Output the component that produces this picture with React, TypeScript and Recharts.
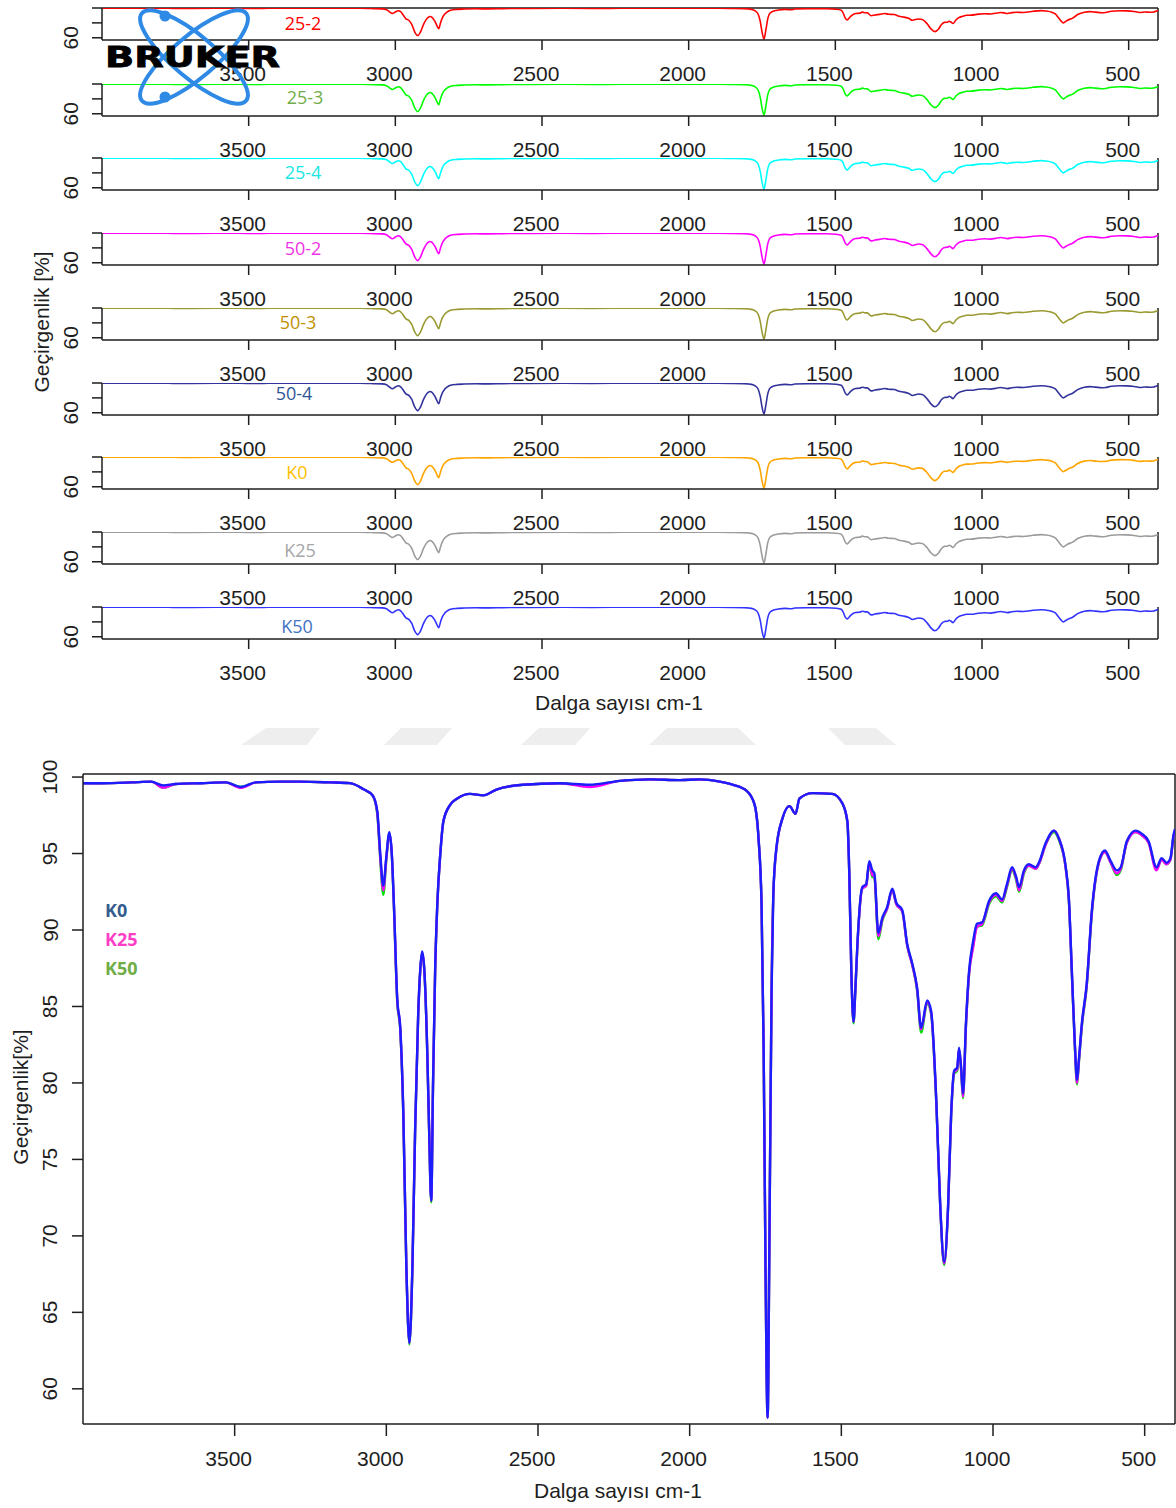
import React from "react";
import { LineChart, Line, XAxis, YAxis, ReferenceLine } from "recharts";

// FTIR spectra (transmittance %, wavenumber descending)
const WAVENUMBER = [
  4000, 3940, 3840, 3775, 3735, 3695, 3610, 3530, 3480, 3430, 3350, 3285, 3185, 3120, 3075, 3045,
  3030, 3020, 3010, 3000, 2990, 2982, 2975, 2964, 2954, 2944, 2934, 2924, 2914, 2905, 2895, 2888,
  2882, 2875, 2865, 2859, 2852, 2846, 2839, 2832, 2822, 2812, 2789, 2766, 2724, 2681, 2635, 2549,
  2428, 2330, 2230, 2132, 2033, 1967, 1901, 1859, 1812, 1786, 1773, 1763, 1756, 1750, 1743, 1737,
  1730, 1724, 1714, 1694, 1671, 1651, 1638, 1595, 1530, 1497, 1480, 1474, 1467, 1460, 1454, 1447,
  1431, 1418, 1408, 1398, 1391, 1378, 1365, 1349, 1332, 1319, 1299, 1283, 1266, 1250, 1237, 1217,
  1204, 1187, 1174, 1161, 1148, 1138, 1128, 1118, 1112, 1105, 1099, 1089, 1079, 1066, 1053, 1036,
  1013, 990, 970, 954, 937, 924, 914, 898, 882, 859, 849, 826, 799, 783, 760, 750,
  740, 730, 723, 717, 707, 691, 674, 651, 631, 612, 592, 579, 559, 530, 510, 487,
  461, 444, 428, 415, 405, 400,
];

const K0 = [
  99.6, 99.6, 99.65, 99.7, 99.45, 99.55, 99.6, 99.65, 99.35, 99.65, 99.7, 99.7, 99.65, 99.6, 99.2, 98.8,
  97.8, 95.0, 92.9, 94.8, 96.4, 95.0, 91.7, 85.5, 83.6, 78.0, 68.0, 63.0, 68.0, 77.0, 84.5, 87.5,
  88.6, 87.5, 82.0, 77.0, 72.3, 80.0, 87.5, 91.7, 95.0, 97.1, 98.2, 98.6, 98.9, 98.8, 99.2, 99.5,
  99.6, 99.5, 99.75, 99.85, 99.8, 99.85, 99.7, 99.5, 99.1, 98.2, 96.0, 91.7, 82.0, 68.0, 58.1, 70.0,
  86.0, 92.5, 95.4, 97.3, 98.1, 97.6, 98.6, 98.95, 98.9, 98.3, 97.1, 93.9, 87.3, 84.0, 86.0, 89.1,
  92.8, 93.0, 94.5, 93.9, 93.7, 89.8, 90.8, 91.5, 92.7, 91.8, 91.3, 89.1, 87.8, 86.2, 83.6, 85.4,
  84.7, 78.9, 72.0, 68.3, 72.0, 78.0, 80.8, 81.0, 82.3, 81.0, 79.3, 84.0, 87.3, 89.2, 90.4, 90.5,
  91.9, 92.4, 92.0, 93.0, 94.1, 93.5, 92.8, 93.9, 94.3, 94.1, 94.4, 95.7, 96.5, 96.0, 94.1, 92.1,
  87.3, 82.5, 80.2, 81.5, 83.9, 86.5, 91.3, 94.5, 95.2, 94.5, 93.9, 94.1, 95.8, 96.5, 96.3, 95.8,
  94.1, 94.7, 94.4, 94.7, 96.2, 96.6,
];

const K25 = [
  99.6, 99.6, 99.65, 99.7, 99.3, 99.55, 99.6, 99.65, 99.3, 99.65, 99.7, 99.7, 99.65, 99.6, 99.2, 98.8,
  97.7, 94.8, 92.6, 94.7, 96.3, 95.0, 91.6, 85.4, 83.5, 78.0, 68.0, 63.0, 68.0, 77.0, 84.4, 87.4,
  88.5, 87.4, 82.0, 77.0, 72.3, 80.0, 87.4, 91.6, 95.0, 97.1, 98.2, 98.6, 98.9, 98.8, 99.2, 99.5,
  99.6, 99.35, 99.75, 99.85, 99.8, 99.85, 99.7, 99.5, 99.1, 98.2, 96.0, 91.6, 82.0, 68.0, 58.1, 70.0,
  86.0, 92.4, 95.3, 97.3, 98.1, 97.6, 98.6, 98.95, 98.9, 98.3, 97.1, 93.8, 87.2, 84.0, 86.0, 89.0,
  92.7, 92.9, 94.4, 93.6, 93.5, 89.6, 90.7, 91.4, 92.6, 91.7, 91.2, 89.0, 87.7, 86.1, 83.5, 85.3,
  84.6, 78.8, 72.0, 68.2, 71.9, 77.9, 80.7, 80.9, 82.2, 80.9, 79.1, 83.8, 87.1, 88.8, 90.2, 90.4,
  91.8, 92.3, 91.9, 92.9, 94.0, 93.4, 92.6, 93.8, 94.2, 94.0, 94.3, 95.6, 96.5, 96.0, 94.0, 92.0,
  87.2, 82.4, 80.0, 81.4, 83.8, 86.4, 91.2, 94.4, 95.1, 94.4, 93.7, 94.0, 95.7, 96.4, 96.2, 95.7,
  93.9, 94.6, 94.3, 94.6, 96.1, 96.5,
];

const K50 = [
  99.6, 99.6, 99.65, 99.7, 99.3, 99.55, 99.6, 99.65, 99.35, 99.65, 99.7, 99.7, 99.65, 99.6, 99.2, 98.8,
  97.6, 94.6, 92.3, 94.6, 96.3, 94.9, 91.5, 85.3, 83.4, 77.9, 67.9, 62.9, 67.9, 76.9, 84.4, 87.4,
  88.5, 87.4, 81.9, 76.9, 72.2, 79.9, 87.4, 91.6, 95.0, 97.1, 98.2, 98.6, 98.9, 98.8, 99.2, 99.5,
  99.6, 99.45, 99.75, 99.85, 99.8, 99.85, 99.7, 99.5, 99.1, 98.2, 96.0, 91.6, 82.0, 68.0, 58.1, 70.0,
  86.0, 92.4, 95.3, 97.3, 98.1, 97.6, 98.6, 98.95, 98.9, 98.3, 97.0, 93.8, 87.2, 83.9, 85.9, 89.0,
  92.7, 92.9, 94.3, 93.5, 93.4, 89.4, 90.6, 91.4, 92.6, 91.7, 91.2, 89.0, 87.7, 86.0, 83.3, 85.2,
  84.5, 78.7, 71.9, 68.1, 71.9, 77.8, 80.6, 80.8, 82.1, 80.8, 79.0, 83.8, 87.1, 88.9, 90.2, 90.3,
  91.7, 92.2, 91.8, 92.8, 93.9, 93.3, 92.5, 93.7, 94.2, 94.0, 94.3, 95.6, 96.4, 95.9, 94.0, 92.0,
  87.1, 82.3, 79.9, 81.3, 83.7, 86.3, 91.1, 94.4, 95.1, 94.4, 93.6, 93.9, 95.7, 96.4, 96.2, 95.7,
  94.0, 94.6, 94.3, 94.6, 96.1, 96.5,
];

// small stacked panels: the spectra look identical at that size
const SAMPLES = ["25-2", "25-3", "25-4", "50-2", "50-3", "50-4", "K0", "K25", "K50"];
const SAMPLE_VALUES = [K25, K25, K25, K50, K50, K50, K0, K25, K50];
const SAMPLE_LINE_COLORS = ["#ff0000", "#00ff00", "#00ffff", "#ff00ff", "#9a9a33", "#33339c", "#ffa500", "#9c9c9c", "#3333ff"];
const SAMPLE_LABEL_COLORS = ["#ff0000", "#70ad47", "#19e6e6", "#f032e6", "#bf9000", "#2f5597", "#ffc000", "#a6a6a6", "#4472c4"];

const X_TICKS = [3500, 3000, 2500, 2000, 1500, 1000, 500];
const PANEL_Y_TICKS = [60, 80, 100];
const MAIN_Y_TICKS = [60, 65, 70, 75, 80, 85, 90, 95, 100];

const LEGEND = ["K0", "K25", "K50"];
const LEGEND_COLORS = ["#345c8e", "#ff3ec8", "#70ad47"];
const MAIN_LINE_COLORS = ["#1c1cff", "#ff00ff", "#00e000"];

// layout
const PANEL_TOPS = [8, 84, 158, 233, 308, 383, 457, 532, 607];
const PANEL_LABEL_Y = [23, 97, 172, 248, 322, 393, 472, 550, 626];
const PANEL_LABEL_X = [303, 305, 303, 303, 298, 294, 297, 300, 297];

const FONT = '"Liberation Sans", Arial, sans-serif';
const LABEL_FONT = '"Open Sans", "Noto Sans", sans-serif';
const INK = "#1e1e1e";
const AXIS = { stroke: INK, strokeWidth: 1.5 };

function XTick({ x, y, payload, lift }: any) {
  return (
    <text x={x - 6} y={y} dy={lift} textAnchor="middle" fontSize={21} fill={INK} fontFamily={FONT}>
      {payload.value}
    </text>
  );
}

function YTick({ x, y, payload, shift, only }: any) {
  if (only != null && payload.value !== only) return <g />;
  const cx = x - shift;
  return (
    <text
      x={cx}
      y={y}
      transform={`rotate(-90 ${cx} ${y})`}
      textAnchor="middle"
      dominantBaseline="central"
      fontSize={21}
      fill={INK}
      fontFamily={FONT}
    >
      {payload.value}
    </text>
  );
}

function Panel({ index }: { index: number }) {
  const top = PANEL_TOPS[index] - 8;
  const values = SAMPLE_VALUES[index];
  const data = WAVENUMBER.map((wn, i) => ({ wn, t: values[i] }));
  return (
    <div style={{ position: "absolute", left: 0, top }}>
      <LineChart width={1176} height={90} data={data} margin={{ top: 8, right: 18, bottom: 0, left: 0 }}>
        <XAxis
          dataKey="wn"
          type="number"
          domain={[400, 4000]}
          reversed
          allowDataOverflow
          ticks={X_TICKS}
          interval={0}
          height={50}
          tickSize={10}
          tickMargin={0}
          axisLine={AXIS}
          tickLine={AXIS}
          tick={(p: any) => <XTick {...p} lift={30.5} />}
        />
        <YAxis
          type="number"
          domain={[57, 100]}
          allowDataOverflow
          ticks={PANEL_Y_TICKS}
          interval={0}
          width={102}
          tickSize={10}
          tickMargin={0}
          axisLine={AXIS}
          tickLine={AXIS}
          tick={(p: any) => <YTick {...p} shift={21} only={60} />}
        />
        {index === 0 && <ReferenceLine y={100} stroke={INK} strokeWidth={1.5} />}
        <ReferenceLine x={400} stroke={INK} strokeWidth={1.5} />
        <Line
          dataKey="t"
          type="monotone"
          stroke={SAMPLE_LINE_COLORS[index]}
          strokeWidth={1.6}
          dot={false}
          isAnimationActive={false}
        />
      </LineChart>
      <div
        style={{
          position: "absolute",
          left: PANEL_LABEL_X[index],
          top: PANEL_LABEL_Y[index] - top,
          transform: "translate(-50%, -50%)",
          color: SAMPLE_LABEL_COLORS[index],
          fontFamily: LABEL_FONT,
          fontSize: 18,
          whiteSpace: "nowrap",
        }}
      >
        {SAMPLES[index]}
      </div>
    </div>
  );
}

function Logo() {
  const blue = "#2f8ae6";
  return (
    <svg width={300} height={110} style={{ position: "absolute", left: 0, top: 0 }}>
      <g fill="none" stroke={blue} strokeWidth={4}>
        <ellipse cx={194} cy={57} rx={68} ry={21} transform="rotate(40 194 57)" />
        <ellipse cx={194} cy={57} rx={68} ry={21} transform="rotate(-40 194 57)" />
      </g>
      <circle cx={165} cy={16} r={5.5} fill={blue} />
      <circle cx={165} cy={97} r={5.5} fill={blue} />
      <text
        x={105}
        y={67}
        fontFamily='"DejaVu Sans", sans-serif'
        fontWeight={900}
        fontSize={28}
        textLength={175}
        lengthAdjust="spacingAndGlyphs"
        fill="#000"
        stroke="#000"
        strokeWidth={0.8}
      >
        BRUKER
      </text>
    </svg>
  );
}

function Watermark() {
  return (
    <svg width={1176} height={30} style={{ position: "absolute", left: 0, top: 722 }}>
      <g fill="#eeeeee">
        <polygon points="266,6 320,6 307,23 241,23" />
        <polygon points="401,6 452,6 437,23 384,23" />
        <polygon points="539,6 590,6 575,23 521,23" />
        <polygon points="667,6 738,6 756,23 649,23" />
        <polygon points="828,6 876,6 896,23 845,23" />
      </g>
    </svg>
  );
}

function Title({ x, y, text, rotate }: { x: number; y: number; text: string; rotate?: boolean }) {
  return (
    <div
      style={{
        position: "absolute",
        left: x,
        top: y,
        transform: `translate(-50%, -50%)${rotate ? " rotate(-90deg)" : ""}`,
        fontFamily: FONT,
        fontSize: 21,
        color: INK,
        whiteSpace: "nowrap",
      }}
    >
      {text}
    </div>
  );
}

export default function App() {
  const rows = WAVENUMBER.map((wn, i) => ({ wn, k0: K0[i], k25: K25[i], k50: K50[i] }));
  return (
    <div
      style={{
        position: "absolute",
        left: 0,
        top: 0,
        width: 1176,
        height: 1508,
        background: "#fff",
        overflow: "hidden",
      }}
    >
      <Watermark />
      {SAMPLES.map((name, i) => (
        <Panel key={name} index={i} />
      ))}
      <Logo />
      <Title x={619} y={703} text="Dalga sayısı cm-1" />
      <Title x={42} y={322} text="Geçirgenlik [%]" rotate />

      <div style={{ position: "absolute", left: 0, top: 740 }}>
        <LineChart width={1176} height={768} data={rows} margin={{ top: 34, right: 1, bottom: 0, left: 0 }}>
          <XAxis
            dataKey="wn"
            type="number"
            domain={[400, 4000]}
            reversed
            allowDataOverflow
            ticks={X_TICKS}
            interval={0}
            height={84}
            tickSize={12}
            tickMargin={0}
            axisLine={AXIS}
            tickLine={AXIS}
            tick={(p: any) => <XTick {...p} lift={29.5} />}
          />
          <YAxis
            type="number"
            domain={[57.7, 100.2]}
            allowDataOverflow
            ticks={MAIN_Y_TICKS}
            interval={0}
            width={83}
            tickSize={11}
            tickMargin={0}
            axisLine={AXIS}
            tickLine={AXIS}
            tick={(p: any) => <YTick {...p} shift={22} />}
          />
          <ReferenceLine y={100.2} stroke={INK} strokeWidth={1.5} />
          <ReferenceLine x={400} stroke={INK} strokeWidth={1.5} />
          <Line dataKey="k50" type="monotone" stroke={MAIN_LINE_COLORS[2]} strokeWidth={2.4} dot={false} isAnimationActive={false} />
          <Line dataKey="k25" type="monotone" stroke={MAIN_LINE_COLORS[1]} strokeWidth={2.4} dot={false} isAnimationActive={false} />
          <Line dataKey="k0" type="monotone" stroke={MAIN_LINE_COLORS[0]} strokeWidth={2.4} dot={false} isAnimationActive={false} />
        </LineChart>
      </div>

      {LEGEND.map((name, i) => (
        <div
          key={name}
          style={{
            position: "absolute",
            left: 105,
            top: 910 + i * 29,
            transform: "translateY(-50%)",
            color: LEGEND_COLORS[i],
            fontFamily: LABEL_FONT,
            fontWeight: 700,
            fontSize: 18,
          }}
        >
          {name}
        </div>
      ))}

      <Title x={618} y={1491} text="Dalga sayısı cm-1" />
      <Title x={21} y={1097} text="Geçirgenlik[%]" rotate />
    </div>
  );
}
